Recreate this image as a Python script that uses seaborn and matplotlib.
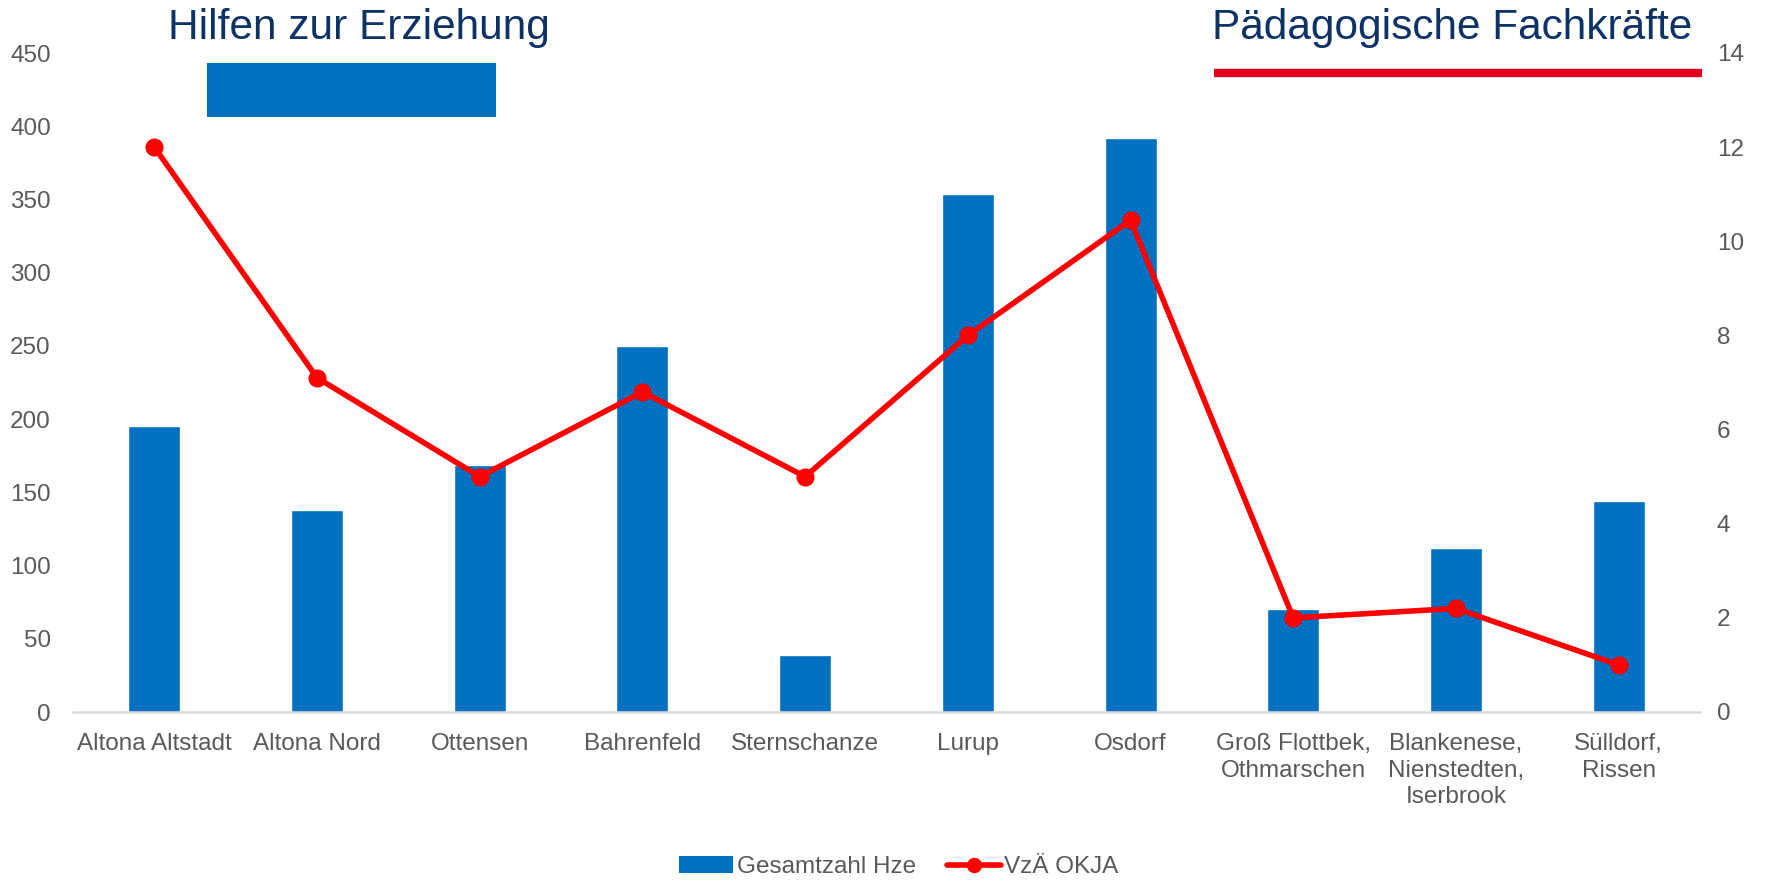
import matplotlib
matplotlib.use("Agg")
import matplotlib.pyplot as plt
import seaborn as sns
import pandas as pd
from matplotlib.patches import Patch, Rectangle
from matplotlib.lines import Line2D

# ---- data ----
categories = ["Altona Altstadt", "Altona Nord", "Ottensen", "Bahrenfeld", "Sternschanze",
              "Lurup", "Osdorf", "Groß Flottbek,\nOthmarschen",
              "Blankenese,\nNienstedten,\nIserbrook", "Sülldorf,\nRissen"]
hze_values = [195, 138, 169, 250, 39, 354, 392, 70, 112, 144]
okja_values = [12.0, 7.1, 5.0, 6.8, 5.0, 8.0, 10.45, 2.0, 2.2, 1.0]
bar_label = "Gesamtzahl Hze"
line_label = "VzÄ OKJA"
left_ticks = list(range(0, 451, 50))
right_ticks = list(range(0, 15, 2))
title_left = "Hilfen zur Erziehung"
title_right = "Pädagogische Fachkräfte"

df = pd.DataFrame({"cat": categories, "hze": hze_values, "okja": okja_values})

sns.set_theme(style="white")
plt.rcParams["font.family"] = ["Liberation Sans", "DejaVu Sans"]

BLUE = "#0070C0"
RED = "#FF0000"
NAVY = "#0D3266"
GRAY = "#595959"
FS = 17.5

fig = plt.figure(figsize=(17.67, 8.80), dpi=100)
ax = fig.add_axes([73/1767, 168/880, (1700-73)/1767, (712-53)/880])

sns.barplot(data=df, x="cat", y="hze", ax=ax, color=BLUE, width=0.32,
            saturation=1, order=categories)
ax.set_xlim(-0.5, len(categories) - 0.5)
ax.set_ylim(0, 450)
ax.set_yticks(left_ticks)
ax.set_xlabel("")
ax.set_ylabel("")
for s in ["top", "right", "left"]:
    ax.spines[s].set_visible(False)
ax.spines["bottom"].set_color("#D9D9D9")
ax.spines["bottom"].set_linewidth(1.8)
ax.tick_params(axis="y", length=0, pad=16, labelsize=FS, labelcolor=GRAY)
ax.tick_params(axis="x", length=0, pad=15, labelsize=FS, labelcolor=GRAY)
for lbl in ax.get_xticklabels():
    lbl.set_linespacing(1.28)
    lbl.set_verticalalignment("top")

ax2 = ax.twinx()
sns.pointplot(data=df, x="cat", y="okja", ax=ax2, color=RED, order=categories,
              markers="o", linestyles="-", linewidth=4, markersize=10)
ax2.set_xlim(-0.5, len(categories) - 0.5)
ax2.set_ylim(0, 14)
ax2.set_yticks(right_ticks)
ax2.set_ylabel("")
ax2.set_xlabel("")
for s in ["top", "right", "left", "bottom"]:
    ax2.spines[s].set_visible(False)
ax2.tick_params(axis="y", length=0, pad=12, labelsize=FS, labelcolor=GRAY)

# headings with coloured keys
fig.text(359/1767, 1 - 28/880, title_left, ha="center", va="center",
         fontsize=30.5, color=NAVY)
fig.patches.append(Rectangle((207/1767, 1 - 117/880), (496-207)/1767, (117-63)/880,
                             transform=fig.transFigure, facecolor=BLUE, edgecolor="none"))
fig.text(1452/1767, 1 - 28/880, title_right, ha="center", va="center",
         fontsize=30.5, color=NAVY)
fig.lines.append(Line2D([1214/1767, 1702/1767], [1 - 73/880, 1 - 73/880],
                        transform=fig.transFigure, color="#E3001B", linewidth=6,
                        solid_capstyle="butt"))

handles = [Patch(facecolor=BLUE, edgecolor="none", label=bar_label),
           Line2D([0], [0], color=RED, linewidth=4, marker="o", markersize=10,
                  label=line_label)]
leg = fig.legend(handles=handles, loc="center", bbox_to_anchor=(899/1767, 1 - 867/880),
                 ncol=2, frameon=False, fontsize=FS, handlelength=2.2,
                 handletextpad=0.15, columnspacing=1.3)
for t in leg.get_texts():
    t.set_color(GRAY)

fig.savefig("out.png", dpi=100)
